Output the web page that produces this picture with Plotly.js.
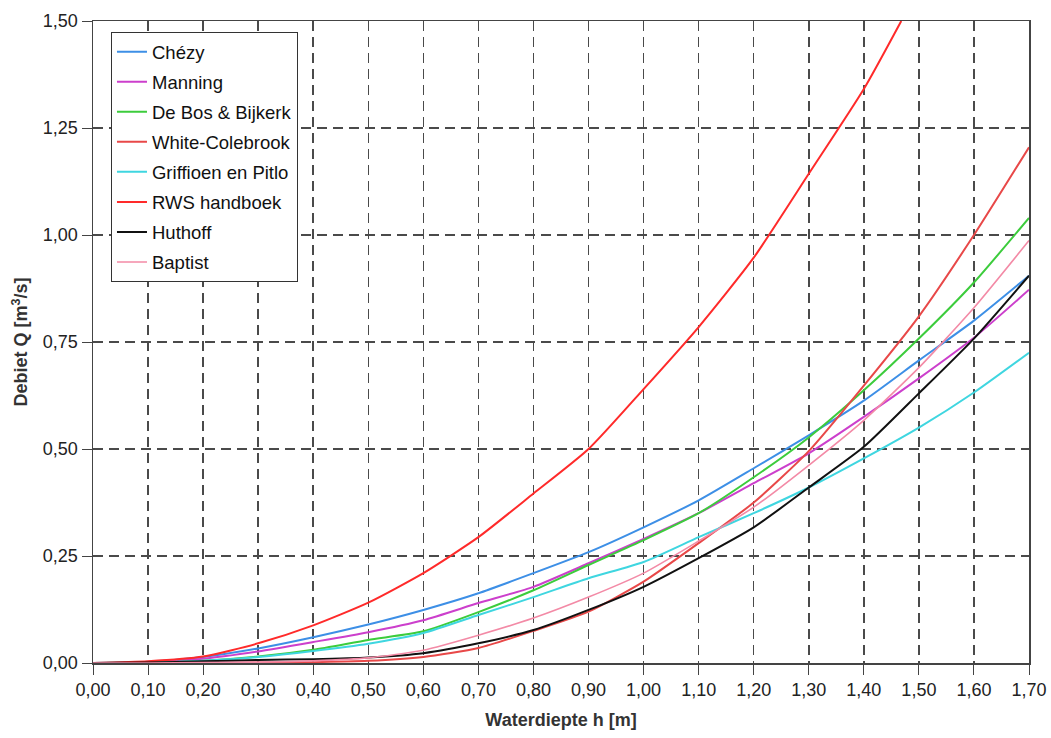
<!DOCTYPE html>
<html>
<head>
<meta charset="utf-8">
<script src="https://cdn.plot.ly/plotly-3.0.1.min.js"></script>
<style>html,body{margin:0;padding:0;background:#fff;}#chart{width:1051px;height:738px;}</style>
</head>
<body>
<div id="chart"></div>
<script>
const depth = [0.00,0.10,0.20,0.30,0.40,0.50,0.60,0.70,0.80,0.90,1.00,1.10,1.20,1.30,1.40,1.50,1.60,1.70];
const chezy = [0,0.003,0.014,0.034,0.06,0.09,0.124,0.163,0.21,0.259,0.317,0.38,0.455,0.532,0.613,0.707,0.80,0.905];
const manning = [0,0.002,0.010,0.027,0.049,0.072,0.10,0.14,0.178,0.233,0.29,0.35,0.42,0.49,0.575,0.665,0.76,0.872];
const deBos = [0,0.001,0.005,0.015,0.031,0.054,0.074,0.119,0.17,0.229,0.287,0.35,0.434,0.527,0.637,0.758,0.889,1.04];
const whiteColebrook = [0,0,0,0.001,0.002,0.005,0.014,0.035,0.075,0.12,0.19,0.28,0.375,0.495,0.648,0.81,1.0,1.205];
const griffioen = [0,0.001,0.005,0.014,0.028,0.045,0.07,0.112,0.154,0.198,0.236,0.294,0.35,0.41,0.478,0.55,0.632,0.725];
const rwsH = [0.00,0.10,0.20,0.30,0.40,0.50,0.60,0.70,0.80,0.90,1.00,1.10,1.20,1.30,1.40,1.468];
const rws = [0,0.004,0.015,0.046,0.088,0.141,0.21,0.294,0.396,0.50,0.64,0.785,0.947,1.143,1.341,1.50];
const huthoff = [0,0.001,0.004,0.007,0.009,0.013,0.023,0.046,0.077,0.124,0.178,0.245,0.317,0.41,0.505,0.63,0.758,0.905];
const baptist = [0,0,0.001,0.002,0.005,0.012,0.03,0.065,0.105,0.154,0.21,0.285,0.364,0.462,0.567,0.69,0.83,0.987];
const xTicks = [0,0.1,0.2,0.3,0.4,0.5,0.6,0.7,0.8,0.9,1.0,1.1,1.2,1.3,1.4,1.5,1.6,1.7];
const yTicks = [0,0.25,0.5,0.75,1.0,1.25,1.5];

function tr(name, x, y, color, w) {
  return {type:'scatter', mode:'lines', name:name, x:x, y:y, legendgroup:name,
          line:{color:color, width:w||2, shape:'spline', smoothing:0.6}};
}
const traces = [
  tr('Chézy', depth, chezy, '#3d8fe6'),
  tr('Manning', depth, manning, '#cc3fcc'),
  tr('De Bos & Bijkerk', depth, deBos, '#3ccc3c'),
  tr('White-Colebrook', depth, whiteColebrook, '#e84848'),
  tr('Griffioen en Pitlo', depth, griffioen, '#3fd6e0'),
  tr('RWS handboek', rwsH, rws, '#ff2a2a'),
  tr('Huthoff', depth, huthoff, '#111111'),
  tr('Baptist', depth, baptist, '#f38aa6', 1.6)
];
const FAM = 'Liberation Sans, Arial, sans-serif';
const axFont = {family:FAM, size:18, color:'#222'};
const layout = {
  width:1051, height:738,
  margin:{l:93, r:22, t:21, b:75},
  paper_bgcolor:'#fff', plot_bgcolor:'#fff',
  separators:', ',
  showlegend:true,
  legend:{x:0.019, y:0.983, xanchor:'left', yanchor:'top', bgcolor:'#fff',
          bordercolor:'#333', borderwidth:1.2, traceorder:'grouped', tracegroupgap:3,
          font:{family:FAM, size:18.5, color:'#111'}},
  xaxis:{range:[0,1.7], tickvals:xTicks, tickformat:'.2f', ticks:'outside', ticklen:10,
         tickcolor:'#444', showline:true, linecolor:'#444', linewidth:1.5, mirror:true,
         showgrid:true, gridcolor:'#4a4a4a', griddash:'10px,6px', gridwidth:1.5, zeroline:false,
         tickfont:axFont,
         title:{text:'<b>Waterdiepte h [m]</b>', font:{family:FAM, size:18, color:'#333'}, standoff:14}},
  yaxis:{range:[0,1.5], tickvals:yTicks, tickformat:'.2f', ticks:'outside', ticklen:10,
         tickcolor:'#444', showline:true, linecolor:'#444', linewidth:1.5, mirror:true,
         showgrid:true, gridcolor:'#4a4a4a', griddash:'10px,6px', gridwidth:1.5, zeroline:false,
         tickfont:axFont,
         title:{text:'<b>Debiet Q [m<sup>3</sup>/s]</b>', font:{family:FAM, size:18, color:'#333'}, standoff:10}}
};
Plotly.newPlot('chart', traces, layout, {displayModeBar:false, staticPlot:true});
</script>
</body>
</html>
